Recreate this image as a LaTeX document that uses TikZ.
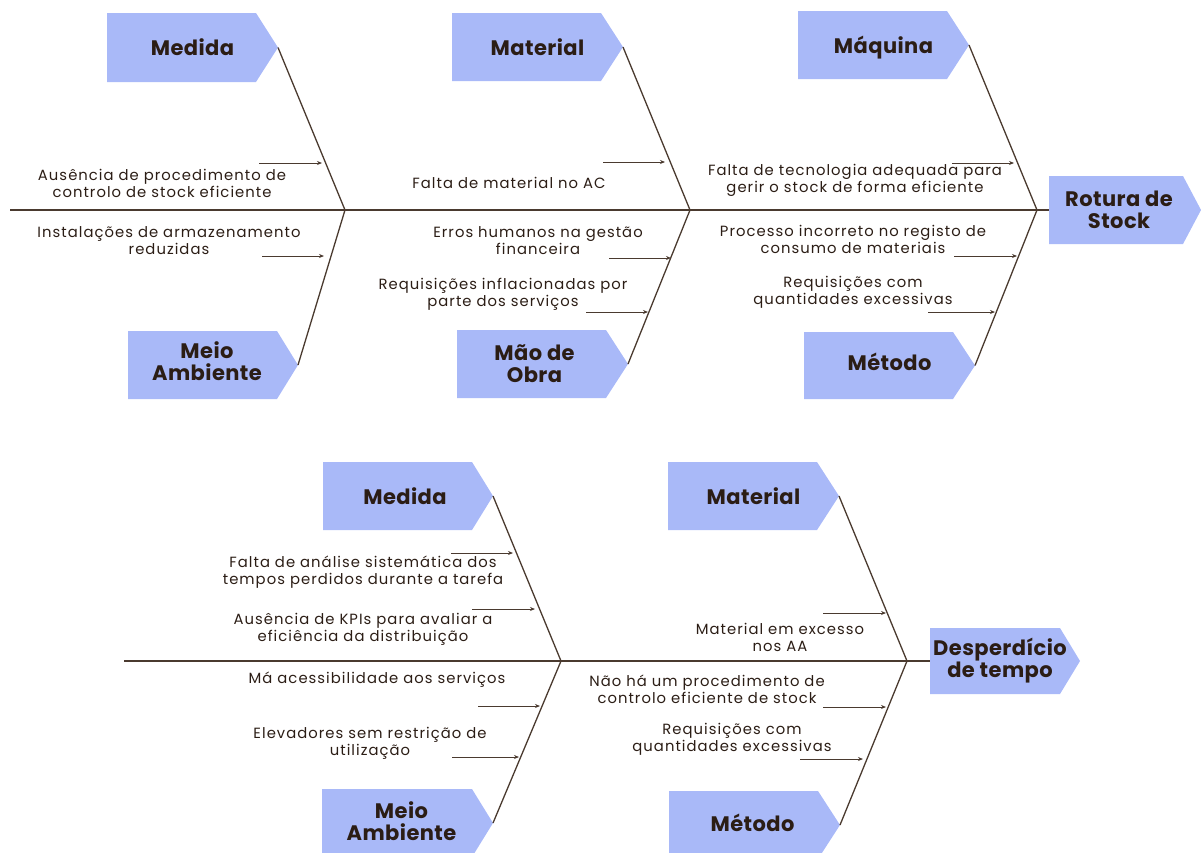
\documentclass[tikz,border=0pt]{standalone}
\usepackage{fontspec}
\setmainfont{Poppins}
\newfontfamily\causefont{Poppins}[LetterSpace=7]
\newfontfamily\catfont{Poppins}[LetterSpace=2]
\usetikzlibrary{arrows.meta}

\definecolor{boxfill}{HTML}{A9B9F8}
\definecolor{ink}{HTML}{2B1D15}
\definecolor{bone}{HTML}{4A3A2F}

\tikzset{
  causetxt/.style={font=\causefont\fontsize{14.8}{17}\selectfont, text=ink, align=center, inner sep=0pt},
  catlabel/.style={font=\catfont\fontsize{21}{22}\selectfont\bfseries, text=ink, align=center, inner sep=0pt},
  boneline/.style={draw=bone, line width=1.3pt},
  spineline/.style={draw=bone, line width=1.5pt},
  causearrow/.style={draw=bone, line width=1pt, -{Stealth[length=5pt,width=4pt]}},
}

% category box: [label shift], name, left x, top y, body width, height, tip depth, label
\newcommand{\catbox}[8][0,0]{%
  \fill[boxfill] (#3,#4) -- ++(#5,0) -- ++(#7,#6/2) -- ++(-#7,#6/2) -- ++(-#5,0) -- cycle;
  \node[catlabel, shift={(#1)}] (#2) at ({#3+(#5+#7)/2},{#4+#6/2}) {#8};
  \coordinate (#2-tip) at ({#3+#5+#7},{#4+#6/2});
}
% cause: name, text x, text y, text, arrow start x, arrow end x, arrow y
\newcommand{\cause}[7]{%
  \node[causetxt] (#1) at (#2,#3) {#4};
  \coordinate (#1-s) at (#5,#7);
  \coordinate (#1-e) at (#6,#7);
  \draw[causearrow] (#1-s) -- (#1-e);
}

\begin{document}
\begin{tikzpicture}[x=1pt,y=-1pt]
\useasboundingbox (0,0) rectangle (1201,852);
\begin{scope}
\clip (0,0) rectangle (1201,852);

% ---------- Rotura de Stock ----------
\catbox{medidaA}{107}{13}{149}{69}{22}{Medida}
\catbox[-6,-4]{meioA}{128}{331}{149}{68}{21}{Meio\\Ambiente}
\catbox{materialA}{452}{13}{149}{68}{22}{Material}
\catbox[-8,0]{maoA}{457}{330}{149}{68}{22}{Mão de\\Obra}
\catbox[0,3]{maquinaA}{798}{11}{149}{68}{22}{Máquina}
\catbox[0,-4]{metodoA}{804}{332}{149}{67}{22}{Método}
\catbox[-6,0]{efeitoA}{1049}{176}{134}{68}{18}{Rotura de\\Stock}

\coordinate (startA) at (10,210);
\coordinate (jA1) at (345,210);
\coordinate (jA2) at (690,210);
\coordinate (jA3) at (1037,210);
\coordinate (endA) at (1049,210);
\draw[spineline] (startA) -- (endA);
\draw[boneline] (medidaA-tip) -- (jA1) -- (meioA-tip);
\draw[boneline] (materialA-tip) -- (jA2) -- (maoA-tip);
\draw[boneline] (maquinaA-tip) -- (jA3) -- (metodoA-tip);

\cause{cA1}{162}{183}{Ausência de procedimento de\\controlo de stock eficiente}{259}{322}{163}
\cause{cA2}{169}{241}{Instalações de armazenamento\\reduzidas}{262}{324}{256}
\cause{cA3}{509}{183}{Falta de material no AC}{603}{665}{162}
\cause{cA4}{538}{241}{Erros humanos na gestão\\financeira}{609}{671}{258}
\cause{cA5}{503}{294}{Requisições inflacionadas por\\parte dos serviços}{586}{648}{312}
\cause{cA6}{855}{180}{Falta de tecnologia adequada para\\gerir o stock de forma eficiente}{952}{1014}{163}
\cause{cA7}{853}{239}{Processo incorreto no registo de\\consumo de materiais}{954}{1017}{256}
\cause{cA8}{853}{292}{Requisições com\\quantidades excessivas}{928}{995}{312}

% ---------- Desperdício de tempo ----------
\catbox[-3,0]{medidaB}{323}{462}{149}{68}{21}{Medida}
\catbox[-6,-2]{meioB}{322}{789}{150}{68}{21}{Meio\\Ambiente}
\catbox{materialB}{668}{462}{149}{68}{22}{Material}
\catbox[-2,-2]{metodoB}{669}{791}{149}{68}{22}{Método}
\catbox[-5,0]{efeitoB}{930}{628}{130}{66}{20}{Desperdício\\de tempo}

\coordinate (startB) at (124,661);
\coordinate (jB1) at (561,661);
\coordinate (jB2) at (907,661);
\coordinate (endB) at (930,661);
\draw[spineline] (startB) -- (endB);
\draw[boneline] (medidaB-tip) -- (jB1) -- (meioB-tip);
\draw[boneline] (materialB-tip) -- (jB2) -- (metodoB-tip);

\cause{cB1}{363}{572}{Falta de análise sistemática dos\\tempos perdidos durante a tarefa}{451}{513}{553}
\cause{cB2}{363}{629}{Ausência de KPIs para avaliar a\\eficiência da distribuição}{472}{535}{609}
\cause{cB3}{377}{680}{Má acessibilidade aos serviços}{478}{540}{706}
\cause{cB4}{370}{743}{Elevadores sem restrição de\\utilização}{452}{519}{757}
\cause{cB5}{780}{637}{Material em excesso\\nos AA}{823}{886}{613}
\cause{cB6}{707}{689}{Não há um procedimento de\\controlo eficiente de stock}{823}{886}{707}
\cause{cB7}{732}{739}{Requisições com\\quantidades excessivas}{800}{863}{759}
\end{scope}
\end{tikzpicture}
\end{document}
